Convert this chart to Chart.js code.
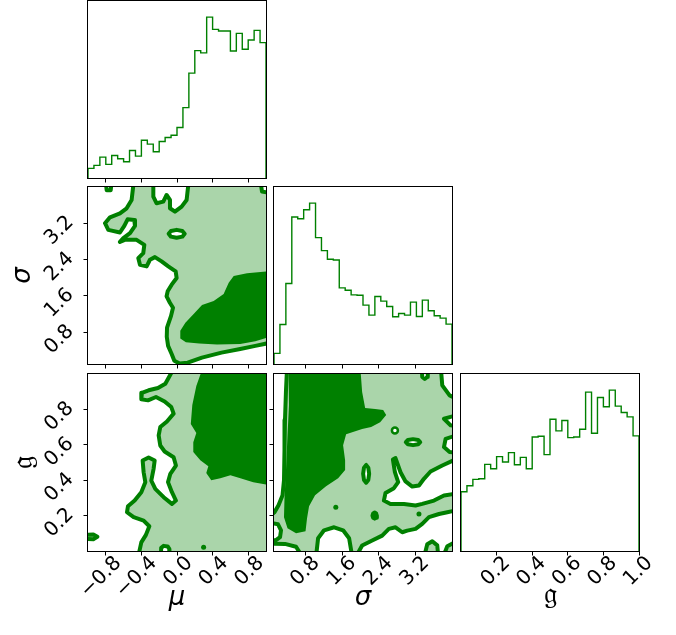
<!DOCTYPE html>
<html>
<head>
<meta charset="utf-8">
<script src="https://cdn.jsdelivr.net/npm/chart.js@4.4.1/dist/chart.umd.min.js"></script>
<style>
  html, body { margin: 0; padding: 0; background: #fff; }
  #fig { position: relative; width: 676px; height: 635px; overflow: hidden; background: #fff; }
  #fig canvas { position: absolute; left: 0; top: 0; }
</style>
</head>
<body>
<div id="fig">
  <canvas id="histMu" width="676" height="635"></canvas>
  <canvas id="muSigma" width="676" height="635"></canvas>
  <canvas id="muG" width="676" height="635"></canvas>
  <canvas id="histSigma" width="676" height="635"></canvas>
  <canvas id="sigmaG" width="676" height="635"></canvas>
  <canvas id="histG" width="676" height="635"></canvas>
</div>
<script>
// axis ranges and tick values
var muRange = [-1, 1];
var sigmaRange = [0.1, 4.0];
var gRange = [0, 1];
var muTicks = [-0.8, -0.4, 0.0, 0.4, 0.8];
var sigmaTicks = [0.8, 1.6, 2.4, 3.2];
var gTicks = [0.2, 0.4, 0.6, 0.8, 1.0];

// 1d marginal histograms (30 bins each)
var muCounts = [29, 38, 63, 41, 68, 58, 49, 83, 66, 114, 102, 79, 110, 122, 129, 152, 212, 316, 384, 377, 485, 448, 443, 443, 383, 436, 388, 416, 445, 408];
var sigmaCounts = [32, 119, 242, 442, 437, 464, 484, 380, 341, 315, 313, 229, 222, 208, 207, 177, 147, 203, 189, 173, 142, 152, 147, 186, 143, 192, 160, 145, 138, 120];
var gCounts = [177, 195, 214, 216, 259, 246, 282, 266, 294, 258, 280, 246, 341, 343, 288, 394, 359, 390, 339, 341, 364, 475, 352, 459, 431, 481, 433, 414, 401, 344];

// mu / sigma contours (outer = 2 sigma level, inner = 1 sigma level)
var muSigmaOuter = [[-0.49,4.05],[-0.51,3.714],[-0.566,3.531],[-0.641,3.421],[-0.753,3.333],[-0.809,3.202],[-0.772,3.055],[-0.641,2.997],[-0.592,3.143],[-0.555,3.289],[-0.48,3.275],[-0.472,3.143],[-0.528,2.982],[-0.603,2.872],[-0.641,2.79],[-0.58,2.84],[-0.454,2.836],[-0.367,2.726],[-0.379,2.543],[-0.435,2.433],[-0.416,2.287],[-0.341,2.251],[-0.304,2.397],[-0.248,2.455],[-0.173,2.36],[-0.098,2.251],[-0.015,2.141],[-0.004,1.994],[-0.06,1.848],[-0.105,1.702],[-0.117,1.592],[-0.08,1.45],[-0.045,1.34],[-0.067,1.16],[-0.112,0.9],[-0.115,0.7],[-0.1,0.5],[-0.06,0.32],[-0.03,0.17],[0.03,0.11],[0.12,0.13],[0.28,0.24],[0.5,0.35],[0.71,0.43],[0.88,0.5],[1.05,0.57],[1.3,0.57],[1.3,4.3],[0.127,4.3],[0.127,4.05],[0.108,3.714],[0.052,3.568],[-0.023,3.458],[-0.079,3.531],[-0.079,3.714],[-0.117,3.824],[-0.154,3.677],[-0.229,3.641],[-0.266,3.787],[-0.266,4.3],[-0.49,4.3]];
var muSigmaHoles = [
  [[0.086,2.968],[0.06,3.03],[-0.004,3.056],[-0.068,3.03],[-0.094,2.968],[-0.068,2.906],[-0.004,2.88],[0.06,2.906],[0.086,2.968]],
  [[-0.735,4.1],[-0.8,4.1],[-0.79,3.93],[-0.745,3.93],[-0.735,4.1]],
  [[1.1,4.1],[0.94,4.1],[0.955,3.9],[1.1,3.85]]
];
var muSigmaInner = [[1.05,2.15],[0.787,2.1],[0.637,2.04],[0.581,1.89],[0.524,1.64],[0.412,1.49],[0.281,1.4],[0.187,1.2],[0.094,1.01],[0.037,0.83],[0.037,0.66],[0.1,0.58],[0.25,0.55],[0.45,0.53],[0.71,0.54],[0.88,0.6],[1.05,0.7]];

// mu / g contours
var muGOuter = [[-0.038,1.03],[-0.131,0.945],[-0.214,0.921],[-0.319,0.908],[-0.394,0.894],[-0.401,0.857],[-0.326,0.851],[-0.236,0.87],[-0.139,0.845],[-0.064,0.813],[-0.038,0.776],[-0.113,0.732],[-0.188,0.7],[-0.206,0.653],[-0.188,0.596],[-0.139,0.562],[-0.038,0.53],[-0.012,0.483],[-0.075,0.436],[-0.101,0.389],[-0.057,0.332],[-0.012,0.285],[-0.057,0.266],[-0.15,0.304],[-0.244,0.351],[-0.289,0.398],[-0.263,0.464],[-0.251,0.511],[-0.319,0.528],[-0.386,0.511],[-0.375,0.445],[-0.356,0.389],[-0.401,0.332],[-0.476,0.285],[-0.551,0.253],[-0.562,0.219],[-0.487,0.191],[-0.375,0.172],[-0.311,0.14],[-0.349,0.091],[-0.401,0.049],[-0.435,-0.03],[-0.435,-0.3],[1.3,-0.3],[1.3,1.3],[-0.038,1.3]];
var muGIslands = [
  [[-1.05,0.092],[-0.94,0.093],[-0.895,0.08],[-0.94,0.067],[-1.05,0.068]]
];
var muGHoles = [
  [[-0.085,-0.03],[-0.18,-0.03],[-0.178,0.018],[-0.15,0.029],[-0.105,0.026],[-0.087,0.012],[-0.085,-0.03]]
];
var muGInner = [[0.3,1.05],[0.217,0.932],[0.172,0.825],[0.155,0.717],[0.217,0.666],[0.183,0.615],[0.183,0.559],[0.262,0.513],[0.352,0.479],[0.329,0.44],[0.385,0.4],[0.487,0.411],[0.6,0.428],[0.712,0.411],[0.857,0.389],[1.05,0.372],[1.05,1.05]];
var muGDots = [[0.299,0.021]];

// sigma / g contours
var sigmaGOuter = [[0.385,1.03],[0.363,0.909],[0.341,0.74],[0.33,0.57],[0.319,0.4],[0.287,0.315],[0.199,0.259],[0.111,0.219],[0.034,0.202],[-0.3,0.202],[-0.3,-0.3],[4.3,-0.3],[4.3,1.3],[0.385,1.3]];
var sigmaGHoles = [
  [[-0.2,0.168],[0.188,0.151],[0.254,0.117],[0.232,0.078],[0.144,0.061],[-0.2,0.055]],
  [[-0.2,0.041],[0.341,0.04],[0.583,0.024],[0.715,-0.03],[0.715,-0.3],[-0.2,-0.3]],
  [[1.812,-0.03],[1.022,-0.03],[1.066,0.072],[1.197,0.117],[1.417,0.134],[1.614,0.117],[1.746,0.072],[1.812,-0.03]],
  [[4.3,-0.3],[1.9,-0.3],[1.9,-0.03],[2.031,0.031],[2.251,0.059],[2.47,0.087],[2.617,0.125],[2.762,0.134],[2.909,0.106],[3.019,0.115],[3.201,0.125],[3.348,0.153],[3.495,0.191],[3.715,0.209],[3.897,0.219],[4.1,0.229],[4.3,0.229]],
  [[4.3,0.517],[4.072,0.517],[3.787,0.483],[3.53,0.449],[3.385,0.408],[3.276,0.37],[3.129,0.364],[2.982,0.393],[2.872,0.445],[2.762,0.525],[2.705,0.517],[2.749,0.445],[2.821,0.389],[2.727,0.355],[2.543,0.328],[2.508,0.285],[2.652,0.266],[2.947,0.266],[3.201,0.257],[3.348,0.266],[3.605,0.285],[3.824,0.314],[4.072,0.323],[4.3,0.323]],
  [[4.3,1.3],[3.75,1.3],[3.75,1.05],[3.787,0.936],[3.947,0.879],[4.1,0.86],[4.3,0.86]],
  [[3.469,1.05],[3.337,1.05],[3.348,0.983],[3.403,0.972],[3.458,0.983],[3.469,1.05]],
  [[4.2,0.775],[3.824,0.747],[3.969,0.71],[4.2,0.706]],
  [[4.2,0.662],[3.86,0.634],[3.824,0.587],[3.947,0.559],[4.2,0.553]],
  [[2.185,0.436],[2.166,0.471],[2.119,0.486],[2.072,0.471],[2.053,0.436],[2.072,0.401],[2.119,0.386],[2.166,0.401],[2.185,0.436]],
  [[3.304,0.615],[3.258,0.627],[3.146,0.632],[3.034,0.627],[2.988,0.615],[3.034,0.603],[3.146,0.598],[3.258,0.603],[3.304,0.615]],
  [[2.354,0.2],[2.34,0.212],[2.306,0.217],[2.272,0.212],[2.258,0.2],[2.272,0.188],[2.306,0.183],[2.34,0.188],[2.354,0.2]]
];
var sigmaGIslands = [
  [[3.699,-0.03],[3.392,-0.03],[3.458,0.038],[3.568,0.055],[3.677,0.032],[3.699,-0.03]],
  [[4.3,-0.03],[3.809,-0.03],[3.897,0.027],[4.028,0.044],[4.3,0.044]]
];
var sigmaGInner = [[0.418,1.05],[1.987,1.05],[2.031,0.898],[2.097,0.808],[2.317,0.802],[2.492,0.796],[2.558,0.768],[2.426,0.728],[2.229,0.7],[2.031,0.689],[1.68,0.66],[1.614,0.598],[1.658,0.513],[1.658,0.457],[1.505,0.411],[1.241,0.366],[1.0,0.315],[0.868,0.253],[0.824,0.185],[0.791,0.112],[0.583,0.1],[0.396,0.129],[0.319,0.191],[0.33,0.298],[0.363,0.457],[0.396,0.655],[0.429,0.825]];
var sigmaGRings = [[2.749,0.681]];
var sigmaGDots = [[1.454,0.247],[3.276,0.209]];

// layout of the panels
var W = 676, H = 635, PW = 178, PH = 177;
var COLS = [88, 274, 461], ROWS = [1, 187, 374];
var GREEN = '#008000', LIGHT = '#aad5aa';
var TICK_FONT = {family: 'DejaVu Sans', size: 20};
var LABEL_FONT = {family: 'DejaVu Sans', size: 26, style: 'italic'};
var FRAK_FONT = {family: 'DejaVu Serif', size: 30, style: 'normal'};

function fmt(v) {
    return (v < 0 ? '\u2212' : '') + Math.abs(v).toFixed(1);
}

function pts(list) {
    return list.map(function (p) { return {x: p[0], y: p[1]}; });
}

// step outline of a histogram
function histOutline(counts, range) {
    var n = counts.length;
    var w = (range[1] - range[0]) / n;
    var out = [{x: range[0], y: 0}];
    for (var i = 0; i < n; i++) {
        out.push({x: range[0] + i * w, y: counts[i]});
        out.push({x: range[0] + (i + 1) * w, y: counts[i]});
    }
    out.push({x: range[1], y: 0});
    return out;
}

function area(list, color, order, width) {
    return {
        data: pts(list), fill: 'shape', backgroundColor: color,
        borderColor: GREEN, borderWidth: width, borderJoinStyle: 'round', borderCapStyle: 'round',
        pointRadius: 0, tension: 0, order: order, clip: 0
    };
}

function marks(list, radius, fillColor, borderWidth) {
    return {
        data: pts(list), showLine: false, pointRadius: radius,
        pointBackgroundColor: fillColor, pointBorderColor: GREEN, pointBorderWidth: borderWidth,
        order: 1, clip: 0
    };
}

function contourSets(outer, holes, islands, inner, rings, dots) {
    var sets = [area(outer, LIGHT, 6, 4)];
    holes.forEach(function (h) { sets.push(area(h, '#ffffff', 5, 4)); });
    islands.forEach(function (h) { sets.push(area(h, LIGHT, 4, 4)); });
    sets.push(area(inner, GREEN, 3, 0));
    if (rings.length) sets.push(marks(rings, 3, '#ffffff', 2.5));
    if (dots.length) sets.push(marks(dots, 2.5, GREEN, 0));
    return sets;
}

function xAxis(range, ticks, o) {
    return {
        type: 'linear', position: 'bottom', min: range[0], max: range[1],
        afterBuildTicks: function (s) { s.ticks = ticks.map(function (v) { return {value: v}; }); },
        afterFit: function (s) { s.height = o.size; },
        grid: {drawOnChartArea: false, drawTicks: true, tickLength: 4.5, tickWidth: 1, tickColor: '#000'},
        border: {display: false},
        ticks: {display: !!o.labels, autoSkip: false, minRotation: 45, maxRotation: 45, padding: -4,
            labelOffset: o.shift || 10.5, color: '#000', font: TICK_FONT, callback: fmt},
        title: {display: !!o.title, text: o.title || '', color: '#000', font: o.font || LABEL_FONT,
            padding: {top: 0, bottom: o.titlePad || 21}}
    };
}

function yAxis(range, ticks, o) {
    return {
        type: 'linear', position: 'left', min: range[0], max: range[1],
        afterBuildTicks: function (s) { s.ticks = ticks.map(function (v) { return {value: v}; }); },
        afterFit: function (s) { s.width = o.size; },
        grid: {drawOnChartArea: false, drawTicks: true, tickLength: 4.5, tickWidth: 1, tickColor: '#000'},
        border: {display: false},
        ticks: {display: !!o.labels, autoSkip: false, minRotation: 45, maxRotation: 45, padding: 13,
            labelOffset: -4, color: '#000', font: TICK_FONT, callback: fmt},
        title: {display: !!o.title, text: o.title || '', color: '#000', font: o.font || LABEL_FONT,
            padding: {top: o.titlePad || 8, bottom: 0}}
    };
}

function histY(counts) {
    return {type: 'linear', display: false, min: 0, max: 1.1 * Math.max.apply(null, counts)};
}

// black frame round every panel
var frame = {
    id: 'frame',
    afterDraw: function (chart) {
        var a = chart.chartArea;
        var ctx = chart.ctx;
        ctx.save();
        ctx.strokeStyle = '#000';
        ctx.lineWidth = 1;
        ctx.strokeRect(a.left - 0.5, a.top - 0.5, a.right - a.left + 1, a.bottom - a.top + 1);
        ctx.restore();
    }
};

function makeChart(id, col, row, yW, xH, xScale, yScale, datasets) {
    var left = COLS[col], top = ROWS[row];
    new Chart(document.getElementById(id), {
        type: 'line',
        data: {datasets: datasets},
        options: {
            responsive: false, animation: false, events: [],
            layout: {padding: {left: left - yW, top: top, right: W - left - PW, bottom: H - top - PH - xH}},
            plugins: {legend: {display: false}, tooltip: {enabled: false}},
            scales: {x: xScale, y: yScale}
        },
        plugins: [frame]
    });
}

function histSet(counts, range) {
    return [{data: histOutline(counts, range), borderColor: GREEN, borderWidth: 1.4,
        pointRadius: 0, tension: 0, fill: false, clip: 1}];
}

var FRAK_G = '\uD835\uDD24';

// diagonal
makeChart('histMu', 0, 0, 0, 6, xAxis(muRange, muTicks, {size: 6}), histY(muCounts), histSet(muCounts, muRange));
makeChart('histSigma', 1, 1, 0, 6, xAxis(sigmaRange, sigmaTicks, {size: 6}), histY(sigmaCounts), histSet(sigmaCounts, sigmaRange));
makeChart('histG', 2, 2, 0, 84, xAxis(gRange, gTicks, {size: 84, labels: true, title: FRAK_G, font: FRAK_FONT, titlePad: 22}), histY(gCounts), histSet(gCounts, gRange));

// lower triangle
makeChart('muSigma', 0, 1, 88, 6,
    xAxis(muRange, muTicks, {size: 6}),
    yAxis(sigmaRange, sigmaTicks, {size: 88, labels: true, title: '\u03C3'}),
    contourSets(muSigmaOuter, muSigmaHoles, [], muSigmaInner, [], []));
makeChart('muG', 0, 2, 88, 84,
    xAxis(muRange, muTicks, {size: 84, labels: true, title: '\u03BC', shift: 12.5}),
    yAxis(gRange, gTicks.slice(0, 4), {size: 88, labels: true, title: FRAK_G, font: FRAK_FONT, titlePad: 6}),
    contourSets(muGOuter, muGHoles, muGIslands, muGInner, [], muGDots));
makeChart('sigmaG', 1, 2, 8, 84,
    xAxis(sigmaRange, sigmaTicks, {size: 84, labels: true, title: '\u03C3'}),
    yAxis(gRange, gTicks.slice(0, 4), {size: 8}),
    contourSets(sigmaGOuter, sigmaGHoles, sigmaGIslands, sigmaGInner, sigmaGRings, sigmaGDots));
</script>
</body>
</html>
